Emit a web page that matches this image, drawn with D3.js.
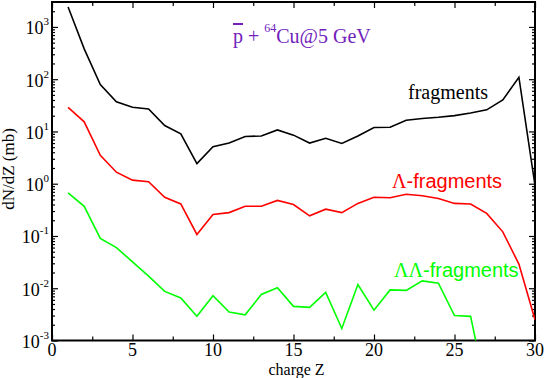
<!DOCTYPE html>
<html>
<head>
<meta charset="utf-8">
<script src="https://cdn.jsdelivr.net/npm/d3@7"></script>
<style>
  body { margin: 0; background: #fff; }
  text { font-family: "Liberation Serif", "Times New Roman", serif; }
</style>
</head>
<body>
<svg id="chart" width="545" height="378"></svg>
<script>
// charge Z of the fragment
const charge = [1, 2, 3, 4, 5, 6, 7, 8, 9, 10, 11, 12, 13, 14, 15,
                16, 17, 18, 19, 20, 21, 22, 23, 24, 25, 26, 27, 28, 29, 30];

// dN/dZ (mb)
const fragments = [2400, 380, 79, 37, 29, 27, 13, 9.0, 2.43, 5.1, 6.0, 8.0, 8.2, 10.7, 8.5,
                   6.0, 7.4, 5.9, 8.2, 11.9, 12.0, 16.4, 17.7, 18.7, 20.1, 22.6, 25.9, 40, 109, 0.93];
const lambdaFragments = [29, 15.3, 3.5, 1.66, 1.17, 1.09, 0.55, 0.41, 0.107, 0.258, 0.28, 0.37, 0.37, 0.48, 0.40,
                         0.243, 0.326, 0.28, 0.42, 0.55, 0.54, 0.63, 0.59, 0.52, 0.42, 0.41, 0.27, 0.12, 0.029, 0.0025];
// goes below the axis after Z = 26
const doubleLambdaFragments = [0.67, 0.37, 0.09, 0.06, 0.032, 0.017, 0.0087, 0.0065, 0.0029, 0.0072, 0.0035, 0.0031,
                               0.0076, 0.0102, 0.0045, 0.0043, 0.0083, 0.0017, 0.0118, 0.0038, 0.0093, 0.0091,
                               0.0138, 0.0125, 0.0030, 0.0029, 0.0001];

const xMajor = [0, 5, 10, 15, 20, 25, 30];
const xMinor = [2.5, 7.5, 12.5, 17.5, 22.5, 27.5];
const yExponents = [-3, -2, -1, 0, 1, 2, 3];

const svg = d3.select("#chart");
const margin = { top: 2, right: 10, bottom: 37.5, left: 52 };
const width = 545, height = 378;

const x = d3.scaleLinear()
    .domain([0, 30])
    .range([margin.left, width - margin.right]);

const y = d3.scaleLog()
    .domain([1e-3, 3000])
    .range([height - margin.bottom, margin.top]);

// minor ticks on the log axis: 2..9 in every decade
const yMinor = [];
yExponents.forEach(e => {
    for (let k = 2; k <= 9; k++) {
        const v = k * Math.pow(10, e);
        if (v < 3000) yMinor.push(v);
    }
});

svg.append("clipPath").attr("id", "plotClip")
  .append("rect")
    .attr("x", x(0)).attr("y", y(3000))
    .attr("width", x(30) - x(0)).attr("height", y(1e-3) - y(3000));

// ticks, all pointing inward
function tickAxis(axis, transform) {
    svg.append("g")
        .attr("transform", transform)
        .call(axis.tickSizeOuter(0).tickFormat(""))
        .call(g => g.select(".domain").remove())
        .call(g => g.selectAll("line").attr("stroke", "#000").attr("stroke-width", 1.2));
}

const bottomY = y(1e-3), topY = y(3000);
tickAxis(d3.axisBottom(x).tickValues(xMajor).tickSizeInner(-6), `translate(0,${bottomY})`);
tickAxis(d3.axisBottom(x).tickValues(xMinor).tickSizeInner(-4), `translate(0,${bottomY})`);
tickAxis(d3.axisTop(x).tickValues(xMajor).tickSizeInner(-6), `translate(0,${topY})`);
tickAxis(d3.axisTop(x).tickValues(xMinor).tickSizeInner(-4), `translate(0,${topY})`);

const yMajor = yExponents.map(e => Math.pow(10, e));
tickAxis(d3.axisLeft(y).tickValues(yMajor).tickSizeInner(-6), `translate(${x(0)},0)`);
tickAxis(d3.axisLeft(y).tickValues(yMinor).tickSizeInner(-3), `translate(${x(0)},0)`);
tickAxis(d3.axisRight(y).tickValues(yMajor).tickSizeInner(-6), `translate(${x(30)},0)`);
tickAxis(d3.axisRight(y).tickValues(yMinor).tickSizeInner(-3), `translate(${x(30)},0)`);

// frame
svg.append("rect")
    .attr("x", x(0)).attr("y", topY)
    .attr("width", x(30) - x(0)).attr("height", bottomY - topY)
    .attr("fill", "none")
    .attr("stroke", "#000")
    .attr("stroke-width", 2);

// x tick labels
svg.append("g").selectAll("text")
    .data(xMajor)
    .join("text")
    .attr("x", d => x(d))
    .attr("y", bottomY + 15)
    .attr("text-anchor", "middle")
    .attr("font-size", 18)
    .text(d => d);

// y tick labels, 10 with the exponent raised
const yLab = svg.append("g").selectAll("text")
    .data(yExponents)
    .join("text")
    .attr("x", x(0) - 3)
    .attr("y", d => y(Math.pow(10, d)) + 7.5)
    .attr("text-anchor", "end")
    .attr("font-size", 18);
yLab.append("tspan").text("10");
yLab.append("tspan")
    .attr("font-size", 11)
    .attr("dy", -9)
    .text(d => d < 0 ? "-" + (-d) : d);

// axis titles
svg.append("text")
    .attr("x", (x(0) + x(30)) / 2 + 3)
    .attr("y", 374.5)
    .attr("text-anchor", "middle")
    .attr("font-size", 16)
    .text("charge Z");

svg.append("text")
    .attr("transform", "translate(14,169) rotate(-90)")
    .attr("text-anchor", "middle")
    .attr("font-size", 17)
    .text("dN/dZ (mb)");

// data lines
const series = [
    { values: fragments, color: "#000000" },
    { values: lambdaFragments, color: "#ff0000" },
    { values: doubleLambdaFragments, color: "#00ff00" }
];

const line = d3.line()
    .x((d, i) => x(charge[i]))
    .y(d => y(d));

svg.append("g")
    .attr("clip-path", "url(#plotClip)")
    .selectAll("path")
    .data(series)
    .join("path")
    .attr("d", d => line(d.values))
    .attr("fill", "none")
    .attr("stroke", d => d.color)
    .attr("stroke-width", 1.6);

// labels in the plot
svg.append("text")
    .attr("x", 408)
    .attr("y", 99)
    .attr("font-size", 20)
    .attr("fill", "#000")
    .text("fragments");

const lam = svg.append("text")
    .attr("x", 392)
    .attr("y", 188)
    .attr("font-size", 20)
    .attr("fill", "#ff0000");
lam.append("tspan").text("Λ");
lam.append("tspan").style("font-family", "'Liberation Sans', Arial, sans-serif").text("-fragments");

const lam2 = svg.append("text")
    .attr("x", 394)
    .attr("y", 277)
    .attr("font-size", 20)
    .attr("fill", "#00ff00");
lam2.append("tspan").text("ΛΛ");
lam2.append("tspan").style("font-family", "'Liberation Sans', Arial, sans-serif").text("-fragments");

// reaction
const title = svg.append("text")
    .attr("x", 233)
    .attr("y", 43)
    .attr("font-size", 20)
    .attr("fill", "rgb(114,33,188)");
title.append("tspan").style("text-decoration", "overline").text("p");
title.append("tspan").text(" + ");
title.append("tspan").attr("font-size", 12).attr("dy", -11).text("64");
title.append("tspan").attr("dy", 11).text("Cu@5 GeV");
</script>
</body>
</html>
